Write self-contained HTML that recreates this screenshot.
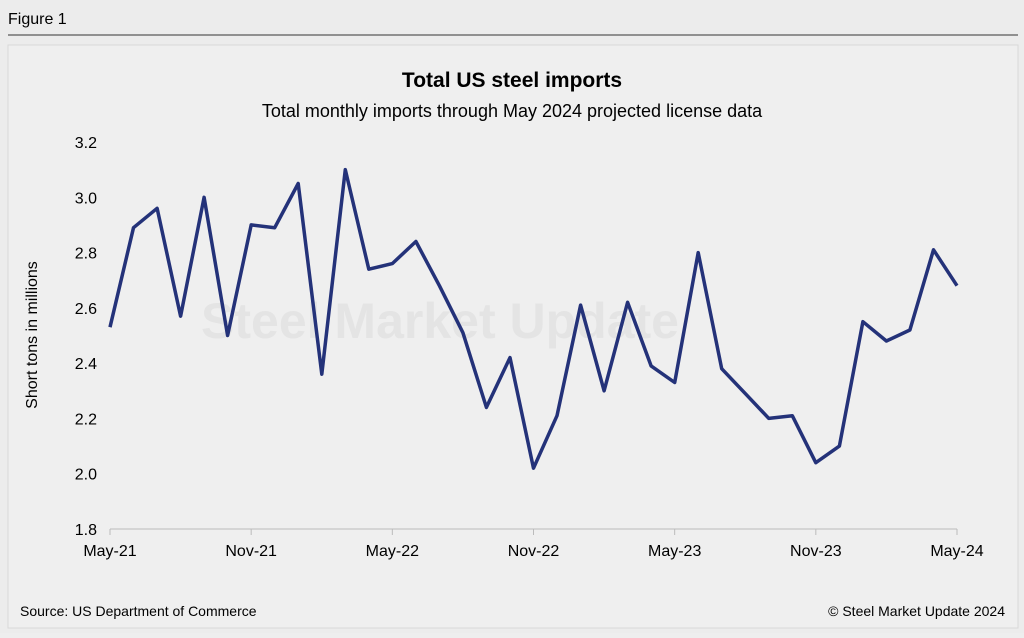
<!DOCTYPE html>
<html><head><meta charset="utf-8"><style>
body{margin:0;width:1024px;height:633px;background:#eeeeee;font-family:"Liberation Sans",Arial,sans-serif;overflow:hidden}
</style></head><body>
<svg width="1024" height="633" viewBox="0 0 1024 633">
<rect x="0" y="0" width="1024" height="633" fill="#ececec"/>
<text x="8" y="24" font-size="16" fill="#000">Figure 1</text>
<line x1="8" y1="35" x2="1018" y2="35" stroke="#333" stroke-width="1"/>
<rect x="8" y="45" width="1010" height="583" fill="#efefef" stroke="#d8d8d8"/>
<text x="512" y="87" font-size="21" font-weight="bold" text-anchor="middle" fill="#000">Total US steel imports</text>
<text x="512" y="117" font-size="18" text-anchor="middle" fill="#000">Total monthly imports through May 2024 projected license data</text>
<text x="440" y="338" font-size="50" font-weight="bold" text-anchor="middle" fill="#e4e4e4">Steel Market Update</text>
<text transform="translate(37,335) rotate(-90)" font-size="16" text-anchor="middle" fill="#000">Short tons in millions</text>
<g id="yt"></g><g id="xt"></g>
<line x1="110" y1="529" x2="957" y2="529" stroke="#bbb"/>
<path id="ln" fill="none" stroke="#243279" stroke-width="3.5" stroke-linejoin="round"/>
<text x="20" y="616" font-size="14" fill="#000">Source: US Department of Commerce</text>
<text x="1005" y="616" font-size="14" text-anchor="end" fill="#000">© Steel Market Update 2024</text>
</svg>
<script>
const values=[2.53,2.89,2.96,2.57,3.00,2.50,2.90,2.89,3.05,2.36,3.10,2.74,2.76,2.84,2.68,2.51,2.24,2.42,2.02,2.21,2.61,2.30,2.62,2.39,2.33,2.80,2.38,2.29,2.20,2.21,2.04,2.10,2.55,2.48,2.52,2.81,2.68];
const yTicks=[1.8,2.0,2.2,2.4,2.6,2.8,3.0,3.2];
const xLabels=["May-21","Nov-21","May-22","Nov-22","May-23","Nov-23","May-24"];
const xLabelIdx=[0,6,12,18,24,30,36];
const NS="http://www.w3.org/2000/svg";
const X=i=>110+i*(957-110)/(values.length-1);
const Y=v=>529-(v-1.8)/(3.2-1.8)*(529-142);
const yt=document.getElementById('yt'),xt=document.getElementById('xt');
yTicks.forEach(t=>{const e=document.createElementNS(NS,'text');
e.setAttribute('x',97);e.setAttribute('y',Y(t)+6);e.setAttribute('font-size','16');e.setAttribute('text-anchor','end');


e.textContent=t.toFixed(1);yt.appendChild(e);});
xLabels.forEach((l,k)=>{const e=document.createElementNS(NS,'text');
e.setAttribute('x',X(xLabelIdx[k]));e.setAttribute('y',556);e.setAttribute('font-size','16');e.setAttribute('text-anchor','middle');


e.textContent=l;xt.appendChild(e);
const m=document.createElementNS(NS,'line');
m.setAttribute('x1',X(xLabelIdx[k]));m.setAttribute('x2',X(xLabelIdx[k]));m.setAttribute('y1',529);m.setAttribute('y2',535);m.setAttribute('stroke','#bbb');


xt.appendChild(m);});
document.getElementById('ln').setAttribute('d',values.map((v,i)=>(i?'L':'M')+X(i).toFixed(1)+','+Y(v).toFixed(1)).join(''));
</script>
</body></html>
